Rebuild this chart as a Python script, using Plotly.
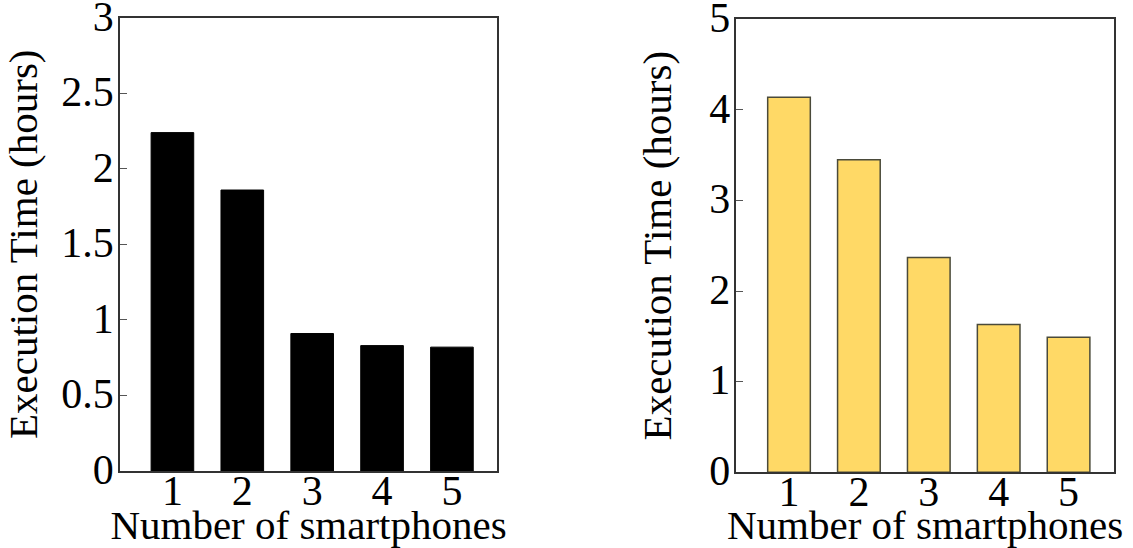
import plotly.graph_objects as go

phones = [1, 2, 3, 4, 5]
tick_labels = ["1", "2", "3", "4", "5"]
time_left = [2.24, 1.86, 0.91, 0.83, 0.82]
time_right = [4.14, 3.45, 2.37, 1.63, 1.49]

FONT = "Liberation Serif"
W, H = 1133, 548


def fx(p):
    return p / W


def fy(p):
    return 1 - p / H


fig = go.Figure()
fig.add_trace(go.Bar(x=phones, y=time_left, width=0.61,
                     marker=dict(color="#000000", line=dict(color="#000000", width=1)),
                     xaxis="x", yaxis="y", showlegend=False))
fig.add_trace(go.Bar(x=phones, y=time_right, width=0.61,
                     marker=dict(color="#FFD966", line=dict(color="#4a4a3a", width=1.5)),
                     xaxis="x2", yaxis="y2", showlegend=False))

TICK = 42
TITLE = 41
axis_common = dict(showgrid=False, zeroline=False, showline=True, mirror=True,
                   linecolor="#333333", linewidth=1.5, ticklabeloverflow="allow",
                   tickfont=dict(family=FONT, size=TICK, color="#000000"))

fig.update_layout(
    width=W, height=H,
    margin=dict(l=0, r=0, t=0, b=0),
    paper_bgcolor="white", plot_bgcolor="white",
    font=dict(family=FONT, color="#000000"),
    xaxis=dict(domain=[fx(120), fx(497)], range=[0.25, 5.645],
               tickvals=phones, ticktext=tick_labels, ticks="", anchor="y",
               ticklabelstandoff=-18,
               title=dict(text="Number of smartphones", font=dict(family=FONT, size=TITLE), standoff=2),
               automargin=False, **axis_common),
    yaxis=dict(domain=[fy(471), fy(17.5)], range=[0, 3.002], tickvals=[0, 0.5, 1, 1.5, 2, 2.5, 3],
               ticktext=["0", "0.5", "1", "1.5", "2", "2.5", "3"],
               ticks="inside", ticklen=7, tickcolor="#555555", tickwidth=1, anchor="x",
               ticklabelstandoff=-4, ticklabelshift=-2,
               title=dict(text="Execution Time (hours)", font=dict(family=FONT, size=TITLE), standoff=17),
               automargin=False, **axis_common),
    xaxis2=dict(domain=[fx(736.3), fx(1114)], range=[0.246, 5.65],
                tickvals=phones, ticktext=tick_labels, ticks="", anchor="y2",
                ticklabelstandoff=-18,
                title=dict(text="Number of smartphones", font=dict(family=FONT, size=TITLE), standoff=2),
                automargin=False, **axis_common),
    yaxis2=dict(domain=[fy(472.3), fy(19)], range=[0, 5.003], tickvals=[0, 1, 2, 3, 4, 5],
                ticktext=["0", "1", "2", "3", "4", "5"],
                ticks="inside", ticklen=7, tickcolor="#555555", tickwidth=1, anchor="x2",
                ticklabelstandoff=-4, ticklabelshift=-2,
                title=dict(text="Execution Time (hours)", font=dict(family=FONT, size=TITLE), standoff=25),
                automargin=False, **axis_common),
)

# remove the browser's default 8px body margin so the figure fills the window exactly
fig.write_html("out.html", config={"displayModeBar": False},
               post_script="document.body.style.margin='0';")
